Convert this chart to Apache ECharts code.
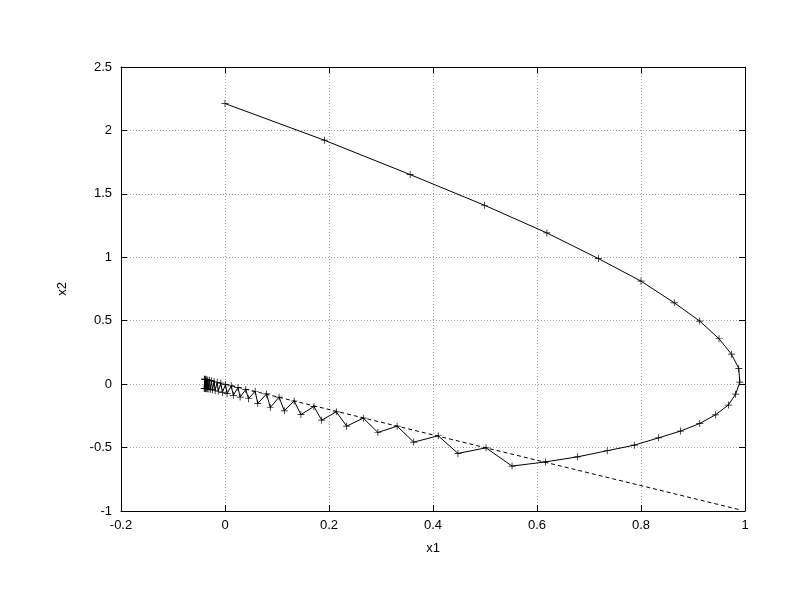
<!DOCTYPE html>
<html>
<head>
<meta charset="utf-8">
<script src="https://cdn.jsdelivr.net/npm/echarts@6/dist/echarts.min.js"></script>
<style>
html,body{margin:0;padding:0;background:#fff;}
#chart{width:792px;height:612px;}
</style>
</head>
<body>
<div id="chart"></div>
<script>
// trajectory (x1, x2)
var trajX1 = [0.000,0.191,0.356,0.499,0.619,0.718,0.800,0.864,0.913,0.950,0.974,0.988,0.990,0.982,0.968,0.943,0.913,0.876,0.834,0.787,0.735,0.678,0.616,0.552,
  0.502,0.448,0.410,0.363,0.331,0.294,0.266,0.234,0.214,0.186,0.171,0.146,0.133,0.114,0.104,0.087,0.080,0.063,0.058,0.045,0.040,0.029,0.025,0.016,0.012,0.004,0.001,-0.005,-0.008,-0.013,-0.015,-0.019,-0.021,-0.024,-0.026,-0.028,-0.030,-0.031,-0.033,-0.034,-0.035,-0.036,-0.037,-0.037,-0.038,-0.038,-0.039,-0.039,-0.039,-0.040];
var trajX2 = [2.212,1.923,1.652,1.410,1.192,0.990,0.812,0.641,0.497,0.358,0.236,0.124,0.016,-0.079,-0.165,-0.242,-0.310,-0.370,-0.423,-0.481,-0.525,-0.573,-0.613,-0.646,
  -0.502,-0.546,-0.407,-0.457,-0.331,-0.381,-0.268,-0.331,-0.218,-0.284,-0.176,-0.240,-0.133,-0.210,-0.102,-0.184,-0.077,-0.152,-0.056,-0.115,-0.042,-0.102,-0.026,-0.088,-0.013,-0.075,-0.002,-0.065,0.008,-0.056,0.015,-0.050,0.021,-0.045,0.026,-0.041,0.030,-0.039,0.033,-0.037,0.035,-0.036,0.037,-0.035,0.038,-0.035,0.039,-0.034,0.039,-0.034];
// dashed reference line endpoints
var lineX1 = [-0.04, 0.99];
var lineX2 = [0.04, -0.99];
var xTicks = [-0.2, 0, 0.2, 0.4, 0.6, 0.8, 1];
var yTicks = [-1, -0.5, 0, 0.5, 1, 1.5, 2, 2.5];

var traj = trajX1.map(function(v,i){return [v, trajX2[i]];});
var ref = lineX1.map(function(v,i){return [v, lineX2[i]];});

var font = 'Liberation Sans, Arial, sans-serif';
function fmt(v){ return String(Math.round(v*10)/10); }
var gridLine = {show:true, lineStyle:{color:'#a0a0a0', type:[1,2], width:1}};
var axLine = {show:true, onZero:false, lineStyle:{color:'#000', width:1}};
var tick = {show:true, inside:true, length:6, lineStyle:{color:'#000', width:1}};

var chart = echarts.init(document.getElementById('chart'), null, {renderer:'canvas'});
chart.setOption({
  backgroundColor:'#fff',
  animation:false,
  grid:{left:121, right:47, top:67, bottom:101},
  xAxis:[
    {type:'value', min:-0.2, max:1, interval:0.2, position:'bottom',
     name:'x1', nameLocation:'middle', nameGap:31,
     nameTextStyle:{fontFamily:font, fontSize:13, color:'#000'},
     axisLine:axLine, axisTick:tick, splitLine:gridLine,
     axisLabel:{fontFamily:font, fontSize:13, color:'#000', margin:8, formatter:fmt}},
    {type:'value', min:-0.2, max:1, interval:0.2, position:'top',
     axisLine:axLine, axisTick:tick, splitLine:{show:false}, axisLabel:{show:false}}
  ],
  yAxis:[
    {type:'value', min:-1, max:2.5, interval:0.5, position:'left',
     name:'x2', nameLocation:'middle', nameGap:52, nameRotate:90,
     nameTextStyle:{fontFamily:font, fontSize:13, color:'#000'},
     axisLine:axLine, axisTick:tick, splitLine:gridLine,
     axisLabel:{fontFamily:font, fontSize:13, color:'#000', margin:9, formatter:fmt}},
    {type:'value', min:-1, max:2.5, interval:0.5, position:'right',
     axisLine:axLine, axisTick:tick, splitLine:{show:false}, axisLabel:{show:false}}
  ],
  series:[
    {type:'line', data:ref, xAxisIndex:0, yAxisIndex:0, showSymbol:false, symbol:'none',
     lineStyle:{color:'#000', width:1, type:[4,3]}, z:2},
    {type:'line', data:traj, xAxisIndex:0, yAxisIndex:0,
     symbol:'path://M4.5,0H5.5V4.5H10V5.5H5.5V10H4.5V5.5H0V4.5H4.5Z', symbolSize:7,
     itemStyle:{color:'#000'}, lineStyle:{color:'#000', width:1}, z:3}
  ]
});
</script>
</body>
</html>
